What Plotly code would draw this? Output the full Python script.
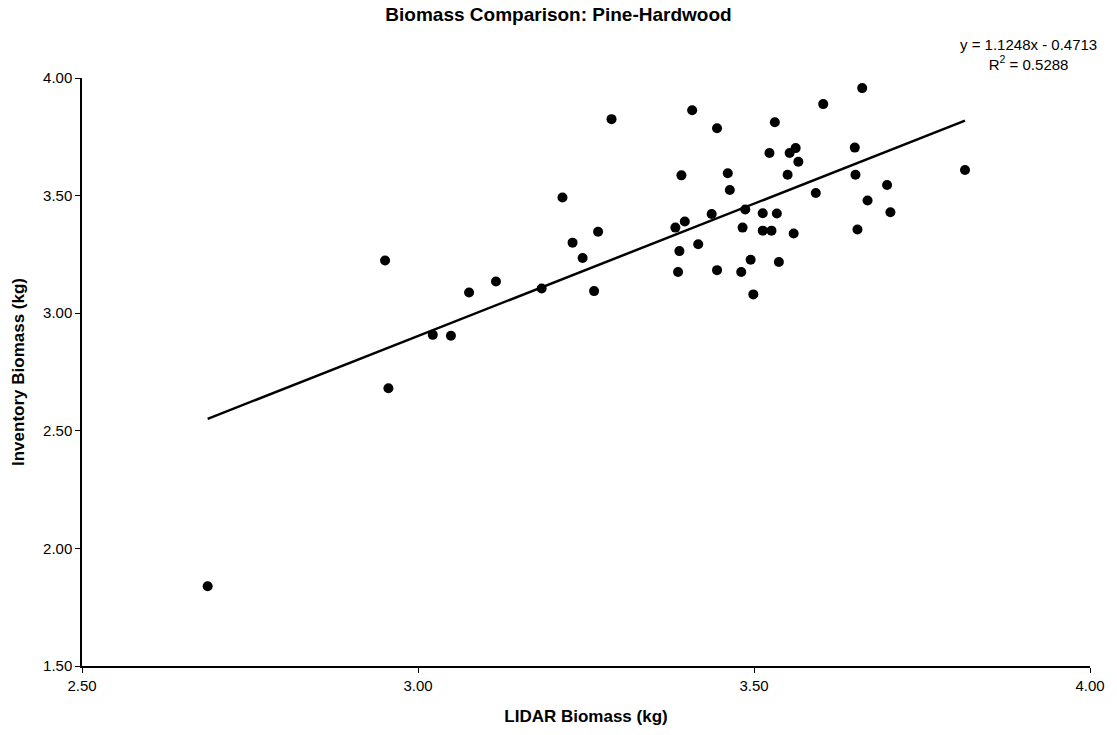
import plotly.graph_objects as go

# Data
lidar_biomass = [
    2.687, 2.951, 2.956, 3.022, 3.049, 3.076, 3.116, 3.184, 3.215, 3.230,
    3.245, 3.262, 3.268, 3.288, 3.383, 3.387, 3.389, 3.392, 3.397, 3.408,
    3.417, 3.437, 3.445, 3.445, 3.461, 3.464, 3.481, 3.483, 3.487, 3.495,
    3.499, 3.513, 3.513, 3.523, 3.526, 3.531, 3.534, 3.537, 3.550, 3.553,
    3.559, 3.562, 3.566, 3.592, 3.603, 3.650, 3.651, 3.654, 3.661, 3.669,
    3.698, 3.703, 3.814,
]
inventory_biomass = [
    1.839, 3.224, 2.681, 2.908, 2.904, 3.088, 3.135, 3.105, 3.492, 3.300,
    3.235, 3.094, 3.346, 3.825, 3.364, 3.175, 3.264, 3.586, 3.390, 3.863,
    3.293, 3.422, 3.183, 3.786, 3.595, 3.524, 3.175, 3.364, 3.441, 3.227,
    3.080, 3.425, 3.351, 3.681, 3.351, 3.812, 3.424, 3.218, 3.589, 3.681,
    3.339, 3.702, 3.644, 3.511, 3.889, 3.704, 3.589, 3.356, 3.957, 3.479,
    3.545, 3.429, 3.609,
]
trend_slope = 1.1248
trend_intercept = -0.4713
r_squared = 0.5288

x_ticks = [2.5, 3.0, 3.5, 4.0]
y_ticks = [1.5, 2.0, 2.5, 3.0, 3.5, 4.0]

FONT = "Liberation Sans, Arial, Helvetica, sans-serif"

x_min, x_max = min(lidar_biomass), max(lidar_biomass)
trend_x = [x_min, x_max]
trend_y = [trend_slope * v + trend_intercept for v in trend_x]

fig = go.Figure()
fig.add_trace(go.Scatter(
    x=trend_x, y=trend_y, mode="lines",
    line=dict(color="black", width=2.5), showlegend=False, hoverinfo="skip",
))
fig.add_trace(go.Scatter(
    x=lidar_biomass, y=inventory_biomass, mode="markers",
    marker=dict(color="black", size=10), showlegend=False,
))

sign = "-" if trend_intercept < 0 else "+"
eq_text = (f"y = {trend_slope:.4f}x {sign} {abs(trend_intercept):.4f}<br>"
           f"R<sup>2</sup> = {r_squared:.4f}")

fig.add_annotation(
    text=eq_text, xref="paper", yref="paper", x=1.0, y=1.0,
    xanchor="right", yanchor="bottom", align="center", showarrow=False,
    font=dict(family=FONT, size=15, color="black"), xshift=9, yshift=3,
)

fig.update_layout(
    width=1117, height=735,
    margin=dict(l=82, r=24, t=78, b=68),
    paper_bgcolor="white", plot_bgcolor="white",
    font=dict(family=FONT, size=15, color="black"),
    title=dict(
        text="<b>Biomass Comparison: Pine-Hardwood</b>",
        x=0.5, xref="container", y=0.980, yref="container",
        xanchor="center", yanchor="middle",
        font=dict(family=FONT, size=19, color="black"),
    ),
    xaxis=dict(
        range=[2.5, 4.0], tickvals=x_ticks, tickformat=".2f",
        showgrid=False, zeroline=False,
        showline=True, linecolor="black", linewidth=1.5,
        ticks="outside", ticklen=5, tickcolor="black", tickwidth=1,
        tickfont=dict(family=FONT, size=15, color="black"),
        title=dict(text="<b>LIDAR Biomass (kg)</b>", standoff=17,
                   font=dict(family=FONT, size=17, color="black")),
    ),
    yaxis=dict(
        range=[1.5, 4.0], tickvals=y_ticks, tickformat=".2f",
        showgrid=False, zeroline=False,
        showline=True, linecolor="black", linewidth=1.5,
        ticks="outside", ticklen=5, tickcolor="black", tickwidth=1,
        tickfont=dict(family=FONT, size=15, color="black"),
        title=dict(text="<b>Inventory Biomass (kg)</b>", standoff=14,
                   font=dict(family=FONT, size=17, color="black")),
    ),
)

fig.write_html("out.html")
